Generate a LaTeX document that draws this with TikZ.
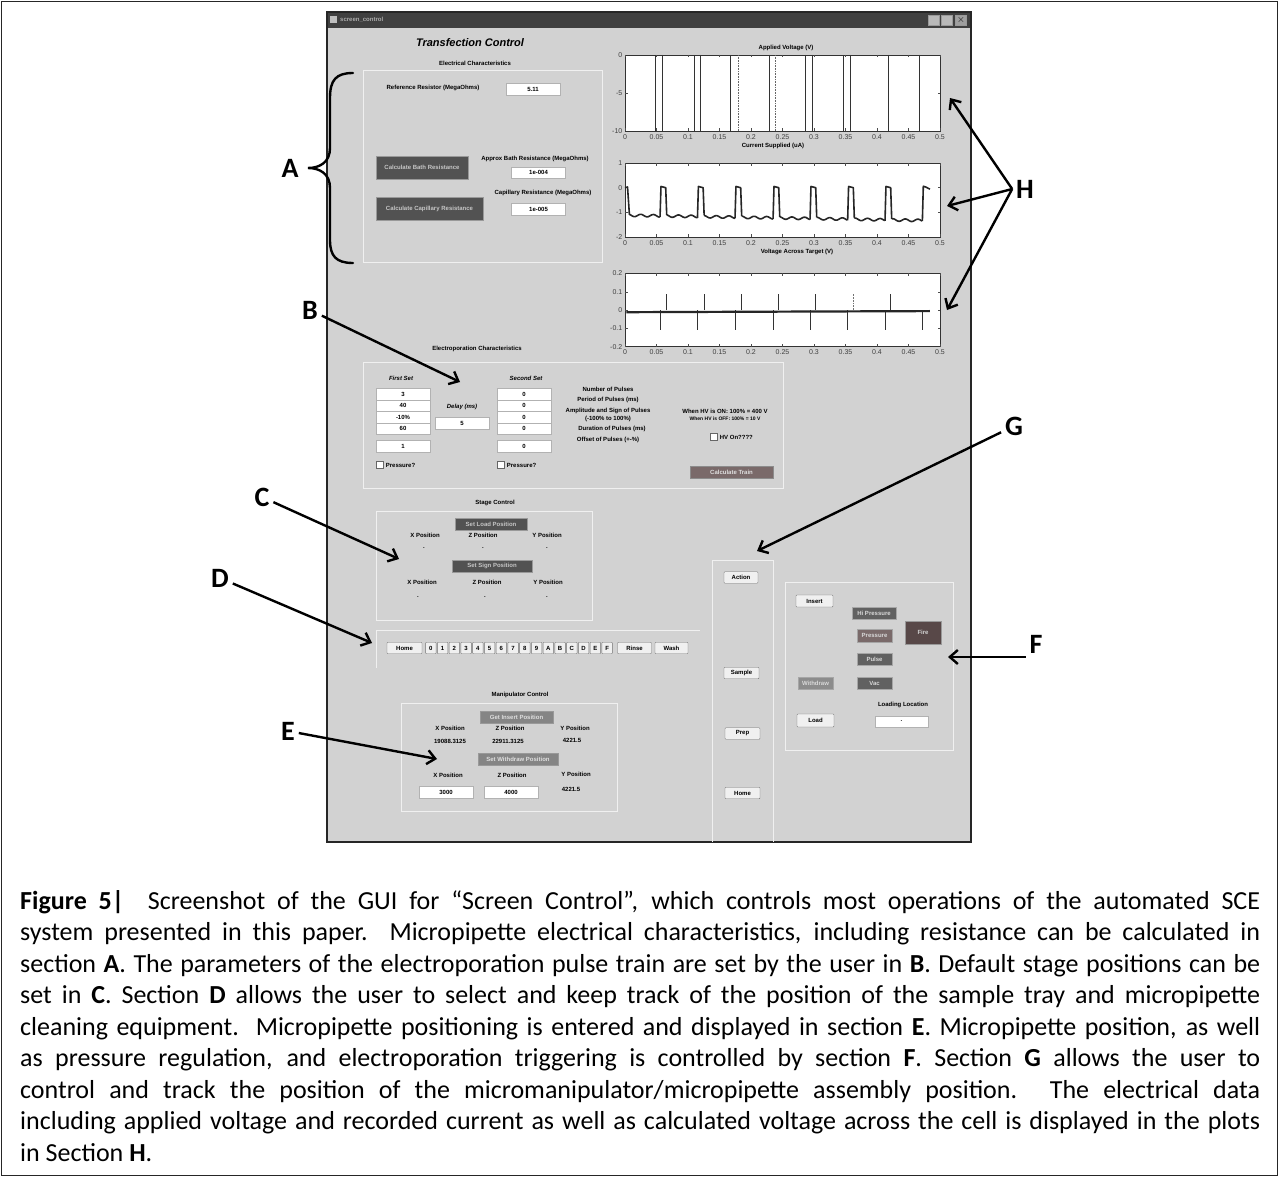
\documentclass[tikz,border=0pt]{standalone}
\usepackage{fontspec}
\setmainfont{Carlito}
\newfontfamily\guifamily{Liberation Sans}
\usetikzlibrary{arrows.meta,positioning}

\newcommand{\guitext}{\guifamily\bfseries\fontsize{6}{7}\selectfont}
\newcommand{\ticktext}{\guifamily\fontsize{7}{8}\selectfont}
\newcommand{\tagtext}{\bfseries\fontsize{28}{28}\selectfont}
\newcommand{\captext}{\fontsize{26}{31.5}\selectfont}

\tikzset{
  gui/.style={font=\guitext, inner sep=0pt},
  guihead/.style={font=\guifamily\bfseries\itshape\fontsize{11}{12}\selectfont, inner sep=0pt},
  guiital/.style={gui, font=\guitext\itshape},
  panel/.style={draw=gray!12, line width=0.7pt},
  field/.style={gui, draw=gray!60, fill=white, minimum width=54pt, minimum height=11.5pt},
  btn/.style={gui, draw=black!55, fill=gray!12, minimum height=11.5pt, rounded corners=0.8pt},
  darkbtn/.style={gui, draw=black!40, fill=black!68, text=gray!45},
  midbtn/.style={gui, draw=black!35, fill=black!52, text=gray!30, minimum height=12.5pt},
  chk/.style={draw=black!60, fill=white, minimum size=7pt, inner sep=0pt},
  winbtn/.style={draw=black!40, fill=gray!55, minimum width=11pt, minimum height=10pt, inner sep=0pt},
  axisbox/.style={draw=black!80, fill=white, line width=0.5pt},
  ticklbl/.style={font=\ticktext, inner sep=0pt, text=black!75},
  trace/.style={line width=1.6pt, black!85, line join=round},
  tag/.style={font=\tagtext, inner sep=0pt, outer sep=4pt},
  pointer/.style={line width=2.4pt, -{Straight Barb[length=8pt,width=14pt]}},
  capline/.style={font=\captext, inner sep=0pt, anchor=base west}
}
\definecolor{trainred}{RGB}{122,106,106}
\definecolor{firered}{RGB}{88,72,72}

\begin{document}
\begin{tikzpicture}[x=1pt, y=-1pt]
\useasboundingbox (0,0) rectangle (1279,1177);
\draw[black!85, line width=1.2pt] (1.5,1.5) rectangle (1277.5,1175.5);

% window of the GUI
\fill[gray!35] (327,12) rectangle (971,842);
\fill[black!75] (327,12) rectangle (971,28);
\draw[black!85, line width=1.6pt] (327,12) rectangle (971,842);
\node[fill=gray!50, minimum size=7pt, inner sep=0pt] (icon) at (333,20) {};
\node[gui, anchor=west, text=gray!65] (wintitle) at (340,20) {screen\_control};
\node[winbtn] (minbtn) at (934,20) {};
\node[winbtn] (maxbtn) at (947,20) {};
\node[winbtn, fill=gray!75] (closebtn) at (961,20) {$\times$};

\node[guihead] (title) at (470,43) {Transfection Control};

% electrical characteristics
\node[gui] (elechead) at (475,63) {Electrical Characteristics};
\draw[panel] (363,70) rectangle (602,262);
\node[gui] (refres) at (433,88) {Reference Resistor (MegaOhms)};
\node[field] (reffield) at (533,89) {5.11};
\node[darkbtn, minimum width=92pt, minimum height=23pt] (bathbtn) at (422,167.5) {Calculate Bath Resistance};
\node[darkbtn, minimum width=107pt, minimum height=23pt] (capbtn) at (429.5,208.5) {Calculate Capillary Resistance};
\node[gui] (bathlbl) at (535,159) {Approx Bath Resistance (MegaOhms)};
\node[field] (bathfield) at (538.5,172.5) {1e-004};
\node[gui] (caplbl) at (543,193) {Capillary Resistance (MegaOhms)};
\node[field] (capfield) at (538.5,209) {1e-005};

% plots
\node[gui] (plotttl1) at (786,48) {Applied Voltage (V)};
\node[gui] (plotttl2) at (773,146) {Current Supplied (uA)};
\node[gui] (plotttl3) at (797,252) {Voltage Across Target (V)};

\begin{scope}[shift={(625,55)}, x=630pt, y=7.6pt]
  \draw[axisbox] (0,0) rectangle (0.5,-10);
  \foreach \t/\l in {0/0,0.05/0.05,0.1/0.1,0.15/0.15,0.2/0.2,0.25/0.25,0.3/0.3,0.35/0.35,0.4/0.4,0.45/0.45,0.5/0.5} {
    \draw[black!70] (\t,-10) -- ++(0pt,2.5pt) (\t,0) -- ++(0pt,-2.5pt);
    \node[ticklbl, anchor=north] at (\t,-10.5) {\l};
  }
  \foreach \v in {0,-5,-10} \node[ticklbl, anchor=east] at (-0.004,\v) {\v};
  \draw[black!70] (0,-5) -- ++(2.5pt,0pt) (0.5,-5) -- ++(-2.5pt,0pt);
  \foreach \p in {0.0487,0.059,0.1095,0.119,0.168,0.2286,0.287,0.298,0.347,0.358,0.418,0.467}
    \draw[line width=0.8pt, black!80] (\p,0) -- (\p,-10);
  \foreach \p in {0.18,0.238}
    \draw[line width=0.6pt, black!60, densely dotted] (\p,0) -- (\p,-10);
\end{scope}

\begin{scope}[shift={(625,187.7)}, x=630pt, y=24.6pt]
  \draw[axisbox] (0,1) rectangle (0.5,-2);
  \foreach \t/\l in {0/0,0.05/0.05,0.1/0.1,0.15/0.15,0.2/0.2,0.25/0.25,0.3/0.3,0.35/0.35,0.4/0.4,0.45/0.45,0.5/0.5} {
    \draw[black!70] (\t,-2) -- ++(0pt,2.5pt) (\t,1) -- ++(0pt,-2.5pt);
    \node[ticklbl, anchor=north] at (\t,-2.16) {\l};
  }
  \foreach \v in {1,0,-1,-2} \node[ticklbl, anchor=east] at (-0.004,\v) {\v};
  \foreach \v in {0,-1} \draw[black!70] (0,\v) -- ++(2.5pt,0pt) (0.5,\v) -- ++(-2.5pt,0pt);
  \draw[trace] (0,0) -- (0.004,0.03) -- (0.007,-1.1);
  \foreach \a/\b in {0.007/0.0556,0.0662/0.115,0.1256/0.1746,0.1852/0.235,0.2456/0.2937,0.3043/0.3534,0.364/0.4127,0.4233/0.472}
    \draw[trace] plot[domain=\a:\b, samples=40] (\x,{-1.12-0.45*\x+0.05*sin(\x*9000*2)});
  \foreach \p in {0.0556,0.115,0.1746,0.235,0.2937,0.3534,0.4127}
    \draw[trace] (\p,{-1.12-0.45*\p+0.05*sin(\p*9000*2)}) -- ({\p+0.0015},0.05) -- ({\p+0.009},0) -- ({\p+0.0106},{-1.12-0.45*(\p+0.0106)+0.05*sin((\p+0.0106)*9000*2)});
  \draw[trace] (0.472,{-1.12-0.45*0.472+0.05*sin(0.472*9000*2)}) -- (0.4735,0.06) -- (0.478,0.02) -- (0.484,-0.06);
\end{scope}

\begin{scope}[shift={(625,310)}, x=630pt, y=183pt]
  \draw[axisbox] (0,0.2) rectangle (0.5,-0.2);
  \foreach \t/\l in {0/0,0.05/0.05,0.1/0.1,0.15/0.15,0.2/0.2,0.25/0.25,0.3/0.3,0.35/0.35,0.4/0.4,0.45/0.45,0.5/0.5} {
    \draw[black!70] (\t,-0.2) -- ++(0pt,2.5pt) (\t,0.2) -- ++(0pt,-2.5pt);
    \node[ticklbl, anchor=north] at (\t,-0.214) {\l};
  }
  \foreach \v in {0.2,0.1,0,-0.1,-0.2} \node[ticklbl, anchor=east] at (-0.004,\v) {\v};
  \foreach \v in {0.1,0,-0.1} \draw[black!70] (0,\v) -- ++(2.5pt,0pt) (0.5,\v) -- ++(-2.5pt,0pt);
  \foreach \p in {0.065,0.126,0.184,0.243,0.303,0.422}
    \draw[line width=0.8pt, black!80] (\p,0) -- (\p,0.09);
  \draw[line width=0.6pt, black!55, densely dotted] (0.363,0) -- (0.363,0.09);
  \foreach \p in {0.0556,0.115,0.1746,0.235,0.2937,0.3534,0.4127,0.472}
    \draw[line width=0.8pt, black!80] (\p,0) -- (\p,-0.11);
  \draw[line width=2.2pt, black!85] (0.002,-0.012) -- (0.484,-0.006);
\end{scope}

% electroporation characteristics
\node[gui] (epohead) at (477,349) {Electroporation Characteristics};
\draw[panel] (363,362) rectangle (783,488);
\node[guiital] (firstset) at (401,378) {First Set};
\node[guiital] (secondset) at (526,378) {Second Set};
\foreach \v [count=\i] in {3,40,-10\%,60} \node[field] (first\i) at (403,{382.5+\i*11.5}) {\v};
\node[field] (first5) at (403,446) {1};
\foreach \v [count=\i] in {0,0,0,0} \node[field] (second\i) at (524,{382.5+\i*11.5}) {\v};
\node[field] (second5) at (524,446) {0};
\node[guiital] (delaylbl) at (462,407) {Delay (ms)};
\node[field] (delayfield) at (462,423) {5};
\node[chk] (chkfirst) at (380,465) {};
\node[gui, right=2pt of chkfirst] (chkfirstlbl) {Pressure?};
\node[chk] (chksecond) at (501,465) {};
\node[gui, right=2pt of chksecond] (chksecondlbl) {Pressure?};
\node[gui] (npulse) at (608,389) {Number of Pulses};
\node[gui] (ppulse) at (608,400) {Period of Pulses (ms)};
\node[gui] (apulse) at (608,411) {Amplitude and Sign of Pulses};
\node[gui] (apulse2) at (608,418.5) {(-100\% to 100\%)};
\node[gui] (dpulse) at (612,429) {Duration of Pulses (ms)};
\node[gui] (opulse) at (608,440) {Offset of Pulses (+-\%)};
\node[gui] (hvon) at (725,411) {When HV is ON: 100\% = 400 V};
\node[gui, font=\guifamily\bfseries\fontsize{5}{6}\selectfont] (hvoff) at (725,419) {When HV is OFF: 100\% = 10 V};
\node[chk] (chkhv) at (714,437) {};
\node[gui, right=2pt of chkhv] (chkhvlbl) {HV On????};
\node[gui, draw=black!45, fill=trainred, text=gray!25, minimum width=83pt, minimum height=12pt] (trainbtn) at (731.5,472.5) {Calculate Train};

% stage control
\node[gui] (stagehead) at (495,503) {Stage Control};
\draw[panel] (376,511) rectangle (592,620);
\node[darkbtn, minimum width=72pt, minimum height=12pt] (loadbtn) at (491,524) {Set Load Position};
\node[gui] (lx) at (425,535) {X Position};
\node[gui] (lz) at (483,535) {Z Position};
\node[gui] (ly) at (547,535) {Y Position};
\foreach \n/\px in {lx/424,lz/483,ly/547} \node[gui] (\n dot) at (\px,548) {.};
\node[darkbtn, minimum width=80pt, minimum height=12pt] (signbtn) at (492,566) {Set Sign Position};
\node[gui] (sx) at (422,582) {X Position};
\node[gui] (sz) at (487,582) {Z Position};
\node[gui] (sy) at (548,582) {Y Position};
\foreach \n/\px in {sx/418,sz/485,sy/547} \node[gui] (\n dot) at (\px,597) {.};

% tray positions
\draw[panel] (376,668) -- (376,630) -- (700,630);
\node[btn, minimum width=35pt] (homebtn) at (404.5,648) {Home};
\foreach \d [count=\i from 0] in {0,1,2,3,4,5,6,7,8,9,A,B,C,D,E,F}
  \node[btn, minimum width=10.5pt] (well\d) at ({430.9+\i*11.75},648) {\d};
\node[btn, minimum width=34pt] (rinsebtn) at (634.5,648) {Rinse};
\node[btn, minimum width=33pt] (washbtn) at (671.5,648) {Wash};

% manipulator control
\node[gui] (maniphead) at (520,695) {Manipulator Control};
\draw[panel] (401,703) rectangle (617,811);
\node[gui, draw=black!40, fill=black!48, text=gray!25, minimum width=73pt, minimum height=12pt] (insertpos) at (516.5,717) {Get Insert Position};
\node[gui] (mx) at (450,728) {X Position};
\node[gui] (mz) at (510,728) {Z Position};
\node[gui] (my) at (575,728) {Y Position};
\node[gui] (mxv) at (450,741) {19088.3125};
\node[gui] (mzv) at (508,741) {22911.3125};
\node[gui] (myv) at (572,740) {4221.5};
\node[gui, draw=black!40, fill=black!48, text=gray!25, minimum width=80pt, minimum height=12pt] (withdrawpos) at (518,759) {Set Withdraw Position};
\node[gui] (wx) at (448,775) {X Position};
\node[gui] (wz) at (512,775) {Z Position};
\node[gui] (wy) at (576,774) {Y Position};
\node[field] (wxfield) at (446,792) {3000};
\node[field] (wzfield) at (511,792) {4000};
\node[gui] (wyv) at (571,789) {4221.5};

% assembly position
\draw[panel] (712,842) -- (712,560) -- (773,560) -- (773,842);
\node[btn, minimum width=34pt] (actionbtn) at (741,577.5) {Action};
\node[btn, minimum width=35pt] (samplebtn) at (741.5,673) {Sample};
\node[btn, minimum width=35pt] (prepbtn) at (742.5,733.5) {Prep};
\node[btn, minimum width=35pt] (homepos) at (742.5,793) {Home};

% pressure and trigger
\draw[panel] (785,582) rectangle (953,750);
\node[btn, minimum width=37pt, minimum height=12pt] (insertbtn) at (814.5,601) {Insert};
\node[midbtn, minimum width=35pt, fill=black!45] (withdrawbtn) at (815.5,683) {Withdraw};
\node[btn, minimum width=37pt, minimum height=13pt] (loadpos) at (815.5,720.5) {Load};
\node[midbtn, minimum width=44pt, fill=black!62] (hipress) at (874,613) {Hi Pressure};
\node[midbtn, minimum width=35pt, fill=trainred] (pressbtn) at (874.5,635.5) {Pressure};
\node[midbtn, minimum width=35pt, fill=black!62] (pulsebtn) at (874.5,659) {Pulse};
\node[midbtn, minimum width=35pt, fill=black!62] (vacbtn) at (874.5,683) {Vac};
\node[gui, draw=black!40, fill=firered, text=gray!35, minimum width=36pt, minimum height=23pt] (firebtn) at (923,632.5) {Fire};
\node[gui] (loadloc) at (903,705) {Loading Location};
\node[field, minimum width=53pt] (loadfield) at (901.5,721.5) {.};

% section tags and pointers
\draw[line width=2.4pt, line cap=round] (353,73) .. controls (336,73) and (330,80) .. (330,98) -- (330,148) .. controls (330,162) and (320,168) .. (308,168) .. controls (320,168) and (330,174) .. (330,188) -- (330,240) .. controls (330,256) and (336,263) .. (353,263);
\node[tag] (labA) at (290,168) {A};
\node[tag] (labB) at (310,310) {B};
\node[tag] (labC) at (262,497) {C};
\node[tag] (labD) at (220,578) {D};
\node[tag] (labE) at (288,731) {E};
\node[tag] (labF) at (1036,644) {F};
\node[tag] (labG) at (1014,426) {G};
\node[tag] (labH) at (1025,189) {H};
\coordinate (tipB) at (460,382);
\coordinate (tipC) at (399,559);
\coordinate (tipD) at (372,643);
\coordinate (tipE) at (437,759);
\coordinate (tipF) at (948,657);
\coordinate (tipG) at (757,551);
\coordinate (tipH1) at (950,98);
\coordinate (tipH2) at (947,206);
\coordinate (tipH3) at (947,310);
\draw[pointer] (labB) -- (tipB);
\draw[pointer] (labC) -- (tipC);
\draw[pointer] (labD) -- (tipD);
\draw[pointer] (labE) -- (tipE);
\draw[pointer] (labF.west |- tipF) -- (tipF);
\draw[pointer] (labG) -- (tipG);
\draw[pointer] (labH.west) -- (tipH1);
\draw[pointer] (labH.west) -- (tipH2);
\draw[pointer] (labH.west) -- (tipH3);

% caption
\node[capline] (cap1) at (20,909) {\makebox[1240pt][s]{\textbf{Figure 5|}\ \ Screenshot of the GUI for “Screen Control”, which controls most operations of the automated SCE}};
\node[capline] (cap2) at (20,940.5) {\makebox[1240pt][s]{system presented in this paper.\ \ Micropipette electrical characteristics, including resistance can be calculated in}};
\node[capline] (cap3) at (20,972) {\makebox[1240pt][s]{section \textbf{A}. The parameters of the electroporation pulse train are set by the user in \textbf{B}. Default stage positions can be}};
\node[capline] (cap4) at (20,1003.5) {\makebox[1240pt][s]{set in \textbf{C}. Section \textbf{D} allows the user to select and keep track of the position of the sample tray and micropipette}};
\node[capline] (cap5) at (20,1035) {\makebox[1240pt][s]{cleaning equipment.\ \ Micropipette positioning is entered and displayed in section \textbf{E}. Micropipette position, as well}};
\node[capline] (cap6) at (20,1066.5) {\makebox[1240pt][s]{as pressure regulation, and electroporation triggering is controlled by section \textbf{F}. Section \textbf{G} allows the user to}};
\node[capline] (cap7) at (20,1098) {\makebox[1240pt][s]{control and track the position of the micromanipulator/micropipette assembly position. The electrical data}};
\node[capline] (cap8) at (20,1129.5) {\makebox[1240pt][s]{including applied voltage and recorded current as well as calculated voltage across the cell is displayed in the plots}};
\node[capline] (cap9) at (20,1161) {in Section \textbf{H}.};
\end{tikzpicture}
\end{document}
